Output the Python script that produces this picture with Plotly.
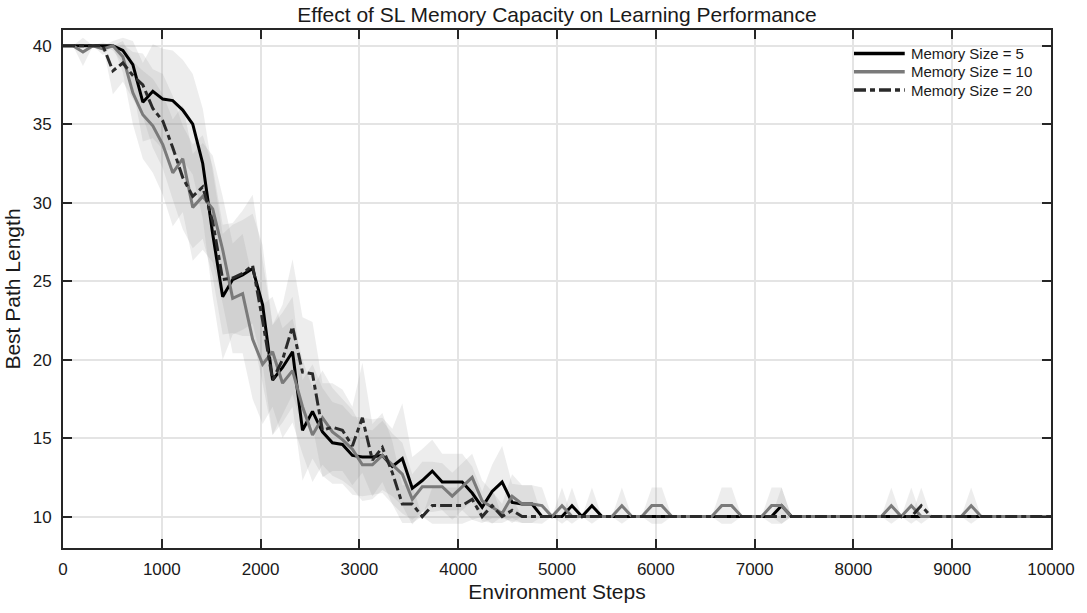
import numpy as np
import plotly.graph_objects as go

# ---- data (100 evaluation points spread over 0..10000 environment steps) ----
steps = np.linspace(0, 10000, 100)

mem5_mean = [40, 40, 40, 40, 40, 40, 39.7, 38.8, 36.4, 37.1,
             36.6, 36.5, 35.9, 35.0, 32.5, 28.0, 24.0, 25.1, 25.4, 25.8,
             23.5, 18.7, 19.5, 20.5, 15.5, 16.7, 15.4, 14.7, 14.6, 13.9,
             13.8, 13.8, 13.9, 13.2, 13.7, 11.8, 12.3, 12.9, 12.2, 12.2,
             12.2, 11.5, 10.6, 11.6, 12.2, 10.9, 10.8, 10.8, 10.0, 10.0,
             10.0, 10.7, 10.0, 10.7, 10, 10, 10, 10, 10, 10,
             10, 10, 10, 10, 10, 10, 10, 10, 10, 10,
             10, 10, 10.7, 10, 10, 10, 10, 10, 10, 10,
             10, 10, 10, 10, 10, 10, 10, 10, 10, 10,
             10, 10, 10, 10, 10, 10, 10, 10, 10, 10]

mem10_mean = [40, 40, 39.6, 40, 39.8, 40, 39.3, 37.0, 35.6, 34.9,
              33.7, 31.9, 32.8, 29.7, 30.4, 29.6, 27.0, 23.9, 24.2, 21.3,
              19.7, 20.5, 18.5, 19.3, 17.0, 15.2, 16.3, 15.4, 14.9, 14.3,
              13.3, 13.3, 13.9, 13.3, 12.7, 11.1, 11.9, 11.9, 11.9, 11.3,
              11.9, 12.5, 11.0, 10.6, 10.2, 11.3, 10.8, 10.8, 10.7, 10.0,
              10.7, 10, 10, 10, 10, 10, 10.7, 10, 10, 10.7,
              10.7, 10, 10, 10, 10, 10, 10.7, 10.7, 10, 10,
              10, 10.7, 10.7, 10, 10, 10, 10, 10, 10, 10,
              10, 10, 10, 10.7, 10, 10.7, 10, 10, 10, 10,
              10, 10.7, 10, 10, 10, 10, 10, 10, 10, 10]

mem20_mean = [40, 40, 40, 40, 40, 38.4, 38.9, 38.1, 37.5, 36.0,
              35.2, 33.5, 31.6, 30.4, 31.0, 28.8, 25.1, 25.2, 25.5, 26.0,
              22.5, 18.7, 20.0, 22.1, 19.2, 19.1, 15.5, 15.7, 15.5, 14.5,
              16.3, 13.6, 14.4, 12.8, 10.8, 10.8, 10.0, 10.7, 10.7, 10.7,
              10.7, 11.1, 10.0, 10.7, 10.0, 10.4, 10, 10, 10, 10,
              10, 10, 10, 10, 10, 10, 10, 10, 10, 10,
              10, 10, 10, 10, 10, 10, 10, 10, 10, 10,
              10, 10, 10, 10, 10, 10, 10, 10, 10, 10,
              10, 10, 10, 10, 10, 10, 10.7, 10, 10, 10,
              10, 10, 10, 10, 10, 10, 10, 10, 10, 10]

mem5_std = [0, 0, 0, 0, 0, 0.3, 0.8, 1.5, 2.5, 3.0,
            3.2, 3.2, 3.2, 3.2, 3.5, 4.0, 4.0, 3.5, 3.5, 3.5,
            3.8, 3.5, 3.5, 3.5, 3.2, 3.0, 2.8, 2.6, 2.5, 2.5,
            2.5, 2.4, 2.4, 2.4, 3.5, 2.0, 2.0, 2.0, 1.8, 1.8,
            1.8, 1.7, 1.0, 1.7, 2.3, 1.2, 1.2, 1.2, 0, 0,
            0, 1.15, 0, 1.15, 0, 0, 0, 0, 0, 0,
            0, 0, 0, 0, 0, 0, 0, 0, 0, 0,
            0, 0, 1.15, 0, 0, 0, 0, 0, 0, 0,
            0, 0, 0, 0, 0, 0, 0, 0, 0, 0,
            0, 0, 0, 0, 0, 0, 0, 0, 0, 0]

mem10_std = [0, 0, 0.9, 0, 0.4, 0, 1.0, 2.0, 2.8, 3.0,
             3.2, 3.4, 3.4, 3.4, 3.4, 3.4, 3.4, 3.5, 3.8, 3.8,
             3.8, 3.5, 3.5, 3.3, 3.0, 3.0, 3.0, 2.8, 2.6, 2.5,
             2.3, 2.2, 2.2, 2.0, 2.0, 1.6, 1.6, 1.6, 1.5, 1.5,
             1.5, 1.5, 1.3, 1.0, 0.6, 1.4, 1.2, 1.2, 1.15, 0,
             1.15, 0, 0, 0, 0, 0, 1.15, 0, 0, 1.15,
             1.15, 0, 0, 0, 0, 0, 1.15, 1.15, 0, 0,
             0, 1.15, 1.15, 0, 0, 0, 0, 0, 0, 0,
             0, 0, 0, 1.15, 0, 1.15, 0, 0, 0, 0,
             0, 1.15, 0, 0, 0, 0, 0, 0, 0, 0]

mem20_std = [0, 0, 0, 0, 0, 1.5, 1.2, 1.5, 2.0, 2.5,
             3.0, 3.3, 3.3, 3.3, 3.3, 3.5, 3.5, 3.5, 4.0, 4.5,
             4.0, 3.5, 3.5, 4.3, 3.5, 3.3, 3.0, 2.8, 2.6, 2.5,
             3.5, 2.3, 2.2, 2.0, 1.2, 1.2, 0, 1.15, 1.15, 1.15,
             1.15, 1.3, 0, 1.15, 0, 0.8, 0, 0, 0, 0,
             0, 0, 0, 0, 0, 0, 0, 0, 0, 0,
             0, 0, 0, 0, 0, 0, 0, 0, 0, 0,
             0, 0, 0, 0, 0, 0, 0, 0, 0, 0,
             0, 0, 0, 0, 0, 0, 1.15, 0, 0, 0,
             0, 0, 0, 0, 0, 0, 0, 0, 0, 0]

series_names = ["Memory Size = 5", "Memory Size = 10", "Memory Size = 20"]
x_ticks = [0, 1000, 2000, 3000, 4000, 5000, 6000, 7000, 8000, 9000, 10000]
x_tick_labels = ["0", "1000", "2000", "3000", "4000", "5000", "6000",
                 "7000", "8000", "9000", "10000"]
y_ticks = [10, 15, 20, 25, 30, 35, 40]

# ---- styling ----
line_colors = ["#000000", "#7a7a7a", "#2a2a2a"]
line_dashes = ["solid", "solid", "12px,4px,5px,4px"]
band_fill = "rgba(150,150,150,0.17)"
FONT = "Liberation Sans, Arial, Helvetica, sans-serif"
TXT = "#1a1a1a"

means = [mem5_mean, mem10_mean, mem20_mean]
stds = [mem5_std, mem10_std, mem20_std]

fig = go.Figure()

for m, s in zip(means, stds):
    m = np.array(m, dtype=float)
    s = np.array(s, dtype=float)
    fig.add_trace(go.Scatter(x=steps, y=m + s, mode="lines",
                             line=dict(width=0, color="rgba(0,0,0,0)"),
                             showlegend=False, hoverinfo="skip"))
    fig.add_trace(go.Scatter(x=steps, y=m - s, mode="lines",
                             line=dict(width=0, color="rgba(0,0,0,0)"),
                             fill="tonexty", fillcolor=band_fill,
                             showlegend=False, hoverinfo="skip"))

for m, name, c, d in zip(means, series_names, line_colors, line_dashes):
    fig.add_trace(go.Scatter(x=steps, y=m, mode="lines", name=name,
                             line=dict(color=c, width=3, dash=d),
                             showlegend=False))

# ---- legend drawn as line samples + text (no box, top-right) ----
W, H = 1087, 613
ML, MR, MT, MB = 61, 33, 30, 65
PW, PH = W - ML - MR, H - MT - MB


def px_x(px):
    return (px - ML) / PW


def px_y(py):
    return 1 - (py - MT) / PH


legend_rows_py = [53.5, 71.8, 90.1]
for name, c, d, py in zip(series_names, line_colors, line_dashes, legend_rows_py):
    fig.add_shape(type="line", xref="paper", yref="paper",
                  x0=px_x(856), x1=px_x(907), y0=px_y(py), y1=px_y(py),
                  line=dict(color=c, width=3.5, dash=d))
    fig.add_annotation(x=px_x(911), y=px_y(py), xref="paper", yref="paper",
                       text=name, showarrow=False, xanchor="left",
                       yanchor="middle",
                       font=dict(family=FONT, size=15, color=TXT))

axis_common = dict(
    showline=True, linecolor="#262626", linewidth=2, mirror="ticks",
    ticks="inside", ticklen=9, tickwidth=1.5, tickcolor="#262626",
    showgrid=True, gridcolor="#e4e4e4", gridwidth=1.5, zeroline=False,
    tickfont=dict(family=FONT, size=17, color=TXT),
)

fig.update_layout(
    width=W, height=H,
    margin=dict(l=ML, r=MR, t=MT, b=MB),
    paper_bgcolor="white", plot_bgcolor="white",
    font=dict(family=FONT, color=TXT),
    showlegend=False,
    title=dict(text="Effect of SL Memory Capacity on Learning Performance",
               x=0.5, xref="paper", y=1 - 15 / H, yref="container",
               xanchor="center", yanchor="middle",
               font=dict(family=FONT, size=21, color=TXT)),
    xaxis=dict(range=[0, 10000], tickvals=x_ticks, ticktext=x_tick_labels,
               title=dict(text="Environment Steps", standoff=6,
                          font=dict(family=FONT, size=21)),
               ticklabelstandoff=5, **axis_common),
    yaxis=dict(range=[8, 41], tickvals=y_ticks,
               title=dict(text="Best Path Length", standoff=6,
                          font=dict(family=FONT, size=21)),
               ticklabelstandoff=6, **axis_common),
)

fig.write_html("out.html")
